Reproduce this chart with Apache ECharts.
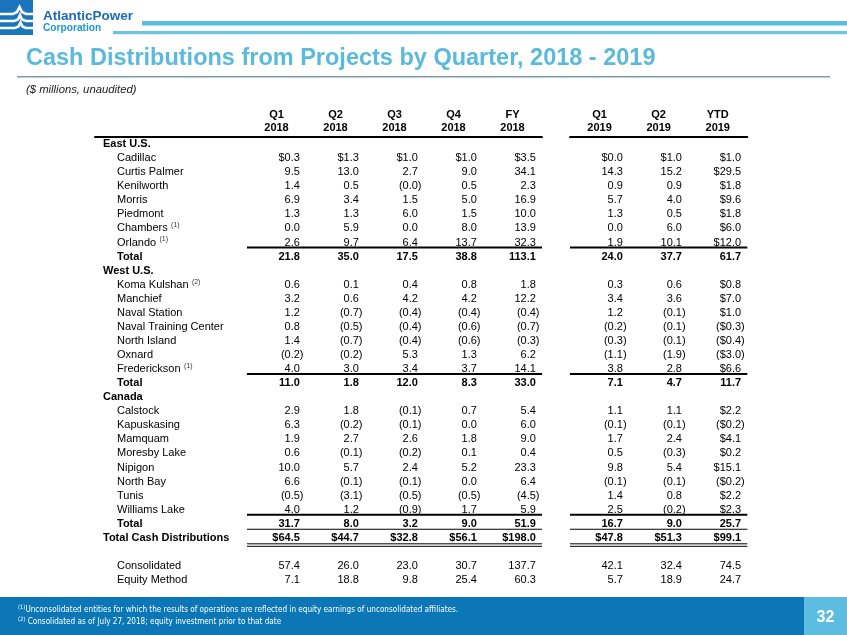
<!DOCTYPE html>
<html><head><meta charset="utf-8">
<script src="https://cdn.jsdelivr.net/npm/echarts@6/dist/echarts.min.js"></script>
<style>html,body{margin:0;padding:0;background:#fff}#c{width:847px;height:635px}</style>
</head><body><div id="c"></div>
<script>
// ---------- DATA ----------
const rowLabels = ['East U.S.','Cadillac','Curtis Palmer','Kenilworth','Morris','Piedmont','Chambers','Orlando','Total',
  'West U.S.','Koma Kulshan','Manchief','Naval Station','Naval Training Center','North Island','Oxnard','Frederickson','Total',
  'Canada','Calstock','Kapuskasing','Mamquam','Moresby Lake','Nipigon','North Bay','Tunis','Williams Lake','Total',
  'Total Cash Distributions','','Consolidated','Equity Method'];
const rowKinds = ['section','item','item','item','item','item','item','item','total',
  'section','item','item','item','item','item','item','item','total',
  'section','item','item','item','item','item','item','item','item','total',
  'grand','blank','memo','memo'];
const footnoteRefs = {'Chambers':'(1)','Orlando':'(1)','Koma Kulshan':'(2)','Frederickson':'(1)'};

const columnHeads = ['Q1\n2018','Q2\n2018','Q3\n2018','Q4\n2018','FY\n2018','Q1\n2019','Q2\n2019','YTD\n2019'];
const q1_2018 = [null,0.3,9.5,1.4,6.9,1.3,0.0,2.6,21.8, null,0.6,3.2,1.2,0.8,1.4,-0.2,4.0,11.0, null,2.9,6.3,1.9,0.6,10.0,6.6,-0.5,4.0,31.7, 64.5,null,57.4,7.1];
const q2_2018 = [null,1.3,13.0,0.5,3.4,1.3,5.9,9.7,35.0, null,0.1,0.6,-0.7,-0.5,-0.7,-0.2,3.0,1.8, null,1.8,-0.2,2.7,-0.1,5.7,-0.1,-3.1,1.2,8.0, 44.7,null,26.0,18.8];
const q3_2018 = [null,1.0,2.7,-0.0,1.5,6.0,0.0,6.4,17.5, null,0.4,4.2,-0.4,-0.4,-0.4,5.3,3.4,12.0, null,-0.1,-0.1,2.6,-0.2,2.4,-0.1,-0.5,-0.9,3.2, 32.8,null,23.0,9.8];
const q4_2018 = [null,1.0,9.0,0.5,5.0,1.5,8.0,13.7,38.8, null,0.8,4.2,-0.4,-0.6,-0.6,1.3,3.7,8.3, null,0.7,0.0,1.8,0.1,5.2,0.0,-0.5,1.7,9.0, 56.1,null,30.7,25.4];
const fy_2018 = [null,3.5,34.1,2.3,16.9,10.0,13.9,32.3,113.1, null,1.8,12.2,-0.4,-0.7,-0.3,6.2,14.1,33.0, null,5.4,6.0,9.0,0.4,23.3,6.4,-4.5,5.9,51.9, 198.0,null,137.7,60.3];
const q1_2019 = [null,0.0,14.3,0.9,5.7,1.3,0.0,1.9,24.0, null,0.3,3.4,1.2,-0.2,-0.3,-1.1,3.8,7.1, null,1.1,-0.1,1.7,0.5,9.8,-0.1,1.4,2.5,16.7, 47.8,null,42.1,5.7];
const q2_2019 = [null,1.0,15.2,0.9,4.0,0.5,6.0,10.1,37.7, null,0.6,3.6,-0.1,-0.1,-0.1,-1.9,2.8,4.7, null,1.1,-0.1,2.4,-0.3,5.4,-0.1,0.8,-0.2,9.0, 51.3,null,32.4,18.9];
const ytd_2019 = [null,1.0,29.5,1.8,9.6,1.8,6.0,12.0,61.7, null,0.8,7.0,1.0,-0.3,-0.4,-3.0,6.6,11.7, null,2.2,-0.2,4.1,0.2,15.1,-0.2,2.2,2.3,25.7, 99.1,null,74.5,24.7];

const footnotes = [
  ['(1)','Unconsolidated entities for which the results of operations are reflected in equity earnings of unconsolidated affiliates.'],
  ['(2)',' Consolidated as of July 27, 2018; equity investment prior to that date']
];
const pageNumber = '32';

// ---------- BUILD ----------
const FONT = '"Liberation Sans", Arial, Helvetica, sans-serif';
const NARROW = '"Liberation Sans Narrow", "DejaVu Sans Condensed", sans-serif';
const columnValues = [q1_2018,q2_2018,q3_2018,q4_2018,fy_2018,q1_2019,q2_2019,ytd_2019];
const groups = [[0,1,2,3,4],[5,6,7]];
const ytdCol = 7;
const firstItemRow = rowKinds.indexOf('item');

function isNeg(v){ return v < 0 || Object.is(v, -0); }
function fmt(v, row, col){
  const kind = rowKinds[row];
  const dollar = kind === 'grand' || row === firstItemRow || (col === ytdCol && kind === 'item');
  let s = (dollar ? '$' : '') + Math.abs(v).toFixed(1);
  return isNeg(v) ? '(' + s + ')' : s;
}

const rules = []; // [boundaryRow, type]
rowKinds.forEach((k, i) => {
  const next = rowKinds[i+1];
  if (next === 'total') rules.push([i + 0.5, 'thick']);
  else if (next === 'grand') rules.push([i + 0.5, 'thin']);
  if (k === 'grand') rules.push([i + 0.5, 'double']);
});

const NROWS = rowLabels.length;
const gridTop = 137, rowPitch = 14.0625;
const grids = [
  {left: 95, top: gridTop, width: 152, height: NROWS * rowPitch},
  {left: 247, top: gridTop, width: 295, height: NROWS * rowPitch},
  {left: 570, top: gridTop, width: 177.3, height: NROWS * rowPitch}
];
const topLine = {show: true, onZero: false, lineStyle: {color: '#000', width: 2}};
const xAxes = [
  {gridIndex: 0, type: 'value', min: 0, max: 1, position: 'top', axisLine: topLine,
   axisTick: {show: false}, axisLabel: {show: false}, splitLine: {show: false}}
].concat(groups.map((g, gi) => ({
  gridIndex: gi + 1, type: 'category', position: 'top', data: g.map(c => columnHeads[c]),
  axisLine: topLine, axisTick: {show: false}, splitLine: {show: false},
  axisLabel: {interval: 0, fontFamily: FONT, fontSize: 11, fontWeight: 'bold', color: '#000', lineHeight: 13, margin: 3}
})));
const yAxes = grids.map((g, i) => ({gridIndex: i, type: 'value', inverse: true, min: -0.5, max: NROWS - 0.5, show: false}));

const series = [];
// row labels
const labelRows = rowLabels.map((l, i) => i).filter(i => rowKinds[i] !== 'blank');
series.push({
  type: 'custom', xAxisIndex: 0, yAxisIndex: 0, silent: true, clip: false,
  encode: {x: 0, y: 1},
  data: labelRows.map(i => [0, i]),
  renderItem: function(params, api){
    const row = api.value(1);
    const pt = api.coord([0, row]);
    const kind = rowKinds[row];
    const bold = kind === 'section' || kind === 'total' || kind === 'grand';
    const indent = (kind === 'section' || kind === 'grand') ? 8 : 22;
    const lbl = rowLabels[row];
    const ref = footnoteRefs[lbl];
    const w = bold ? 'bold' : 'normal';
    return {
      type: 'text', x: pt[0] + indent, y: pt[1],
      style: {
        text: ref ? '{n|' + lbl + '} {s|' + ref + '}' : '{n|' + lbl + '}',
        align: 'left', verticalAlign: 'middle',
        rich: {
          n: {fontFamily: FONT, fontSize: 11, fontWeight: w, fill: '#000', lineHeight: 13, verticalAlign: 'middle'},
          s: {fontFamily: FONT, fontSize: 7, fill: '#333', lineHeight: 13, verticalAlign: 'top'}
        }
      }
    };
  }
});

groups.forEach((g, gi) => {
  const cells = [];
  g.forEach((col, ci) => {
    columnValues[col].forEach((v, row) => {
      if (v === null) return;
      cells.push({pos: [ci, row], text: fmt(v, row, col), neg: isNeg(v), bold: ['total','grand'].includes(rowKinds[row])});
    });
  });
  series.push({
    type: 'custom', xAxisIndex: gi + 1, yAxisIndex: gi + 1, silent: true, clip: false,
    encode: {x: 0, y: 1},
    data: cells.map(c => c.pos),
    renderItem: function(params, api){
      const c = cells[params.dataIndex];
      const pt = api.coord([api.value(0), api.value(1)]);
      return {
        type: 'text', x: pt[0] + (c.neg ? 27 : 23.3), y: pt[1],
        style: {text: c.text, align: 'right', verticalAlign: 'middle', fontFamily: FONT, fontSize: 11,
                fontWeight: c.bold ? 'bold' : 'normal', fill: '#000'}
      };
    }
  });
  series.push({
    type: 'custom', xAxisIndex: gi + 1, yAxisIndex: gi + 1, silent: true, clip: false,
    encode: {x: 0, y: 1},
    data: rules.map(r => [0, r[0]]),
    renderItem: function(params, api){
      const type = rules[params.dataIndex][1];
      const y = api.coord([0, api.value(1)])[1];
      const cs = params.coordSys;
      const ln = (yy, w) => ({type: 'line', shape: {x1: cs.x, y1: yy, x2: cs.x + cs.width, y2: yy},
                              style: {stroke: '#000', lineWidth: w}});
      if (type === 'thick') return ln(y - 2, 2);
      if (type === 'thin') return ln(y - 1.5, 1);
      return {type: 'group', children: [ln(y - 1, 1), ln(y + 1.5, 1)]};
    }
  });
});

const graphic = [
  // logo
  {type: 'rect', shape: {x: 0, y: 0, width: 33, height: 35}, style: {fill: '#1b75bc'}},
  {type: 'polyline', shape: {points: [[0,14],[13,14],[17,12],[19.5,7],[22,12],[26,14],[33,14]]}, style: {stroke: '#fff', lineWidth: 2.6, fill: null}},
  {type: 'polyline', shape: {points: [[0,21],[14,21],[18,19.5],[20,15],[22,19.5],[26,21],[33,21]]}, style: {stroke: '#fff', lineWidth: 2.6, fill: null}},
  {type: 'polyline', shape: {points: [[0,28],[15,28],[18.5,26.5],[20.5,22.5],[22.5,26.5],[26,28],[33,28]]}, style: {stroke: '#fff', lineWidth: 2.6, fill: null}},
  {type: 'text', x: 43, y: 16, style: {text: 'AtlanticPower', font: 'bold 13.5px ' + FONT, fill: '#1c6cb5', verticalAlign: 'middle'}},
  {type: 'text', x: 43, y: 28.5, style: {text: 'Corporation', font: 'bold 10.2px ' + FONT, fill: '#1e96d8', verticalAlign: 'middle'}},
  {type: 'rect', shape: {x: 142, y: 21, width: 705, height: 4.5}, style: {fill: '#5cbcdc'}},
  {type: 'rect', shape: {x: 113, y: 31, width: 734, height: 3.3}, style: {fill: '#6cc4e2'}},
  // title
  {type: 'text', x: 26, y: 59, style: {text: 'Cash Distributions from Projects by Quarter, 2018 - 2019', font: 'bold 23.5px ' + FONT, fill: '#5bbad9', verticalAlign: 'middle'}},
  {type: 'rect', shape: {x: 17, y: 76, width: 813, height: 1.6}, style: {fill: '#7f98ab'}},
  {type: 'text', x: 26, y: 89.5, style: {text: '($ millions, unaudited)', font: 'italic 11.3px ' + FONT, fill: '#222', verticalAlign: 'middle'}},
  // footer
  {type: 'rect', shape: {x: 0, y: 597, width: 804, height: 38}, style: {fill: '#0b77b7'}},
  {type: 'rect', shape: {x: 804, y: 597, width: 43, height: 38}, style: {fill: '#5cbde1'}},
  {type: 'text', x: 825.5, y: 617.5, style: {text: pageNumber, font: 'bold 16px ' + FONT, fill: '#fff', align: 'center', verticalAlign: 'middle'}}
].concat(footnotes.map((f, i) => ({
  type: 'text', x: 18, y: 610 + i * 11.5,
  style: {text: '{s|' + f[0] + '}{t|' + f[1] + '}', verticalAlign: 'middle',
    rich: {s: {fontFamily: NARROW, fontSize: 5.8, fill: '#fff', verticalAlign: 'top', lineHeight: 11},
           t: {fontFamily: NARROW, fontSize: 8.1, fill: '#fff', lineHeight: 11, verticalAlign: 'middle'}}}
})));

const chart = echarts.init(document.getElementById('c'), null, {renderer: 'canvas'});
chart.setOption({
  animation: false,
  backgroundColor: '#fff',
  grid: grids,
  xAxis: xAxes,
  yAxis: yAxes,
  series: series,
  graphic: graphic
});
</script>
</body></html>
